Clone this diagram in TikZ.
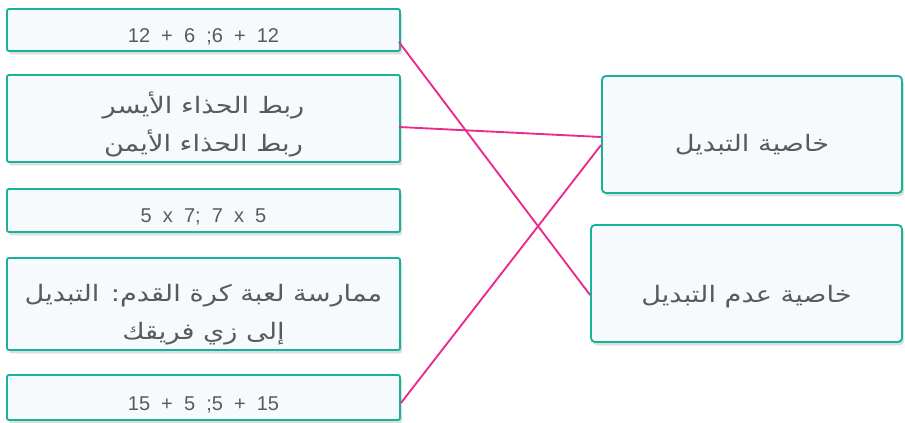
\documentclass[tikz,border=0pt]{standalone}
\usepackage{fontspec}
\setmainfont{Liberation Sans}
\newfontfamily\arabicfont[Script=Arabic,FakeStretch=1.2]{DejaVu Sans}
\TeXXeTstate=1
\usetikzlibrary{calc,shadows}
\definecolor{teal1}{HTML}{17B29C}
\definecolor{boxfill}{HTML}{F6FAFD}
\definecolor{mag}{HTML}{EC2A8E}
\definecolor{txt}{HTML}{5A5A5A}
\begin{document}
\begin{tikzpicture}[x=0.75pt,y=-0.75pt,
  card/.style={draw=teal1,line width=1.4pt,fill=boxfill,rounded corners=1.5pt,
    inner sep=0pt,
    drop shadow={opacity=0.22,shadow xshift=1.5pt,shadow yshift=-2.5pt,fill=black!60}},
  lcard/.style={card,minimum width=294.75pt},
  rcard/.style={card,minimum height=87.75pt,rounded corners=3pt},
  lbl/.style={inner sep=0pt,text=txt,align=center},
  arab/.style={lbl,font=\arabicfont\fontsize{17}{28.5}\selectfont},
  numf/.style={lbl,font=\fontsize{15}{17}\selectfont},
  link/.style={draw=mag,line width=1.4pt}]
\useasboundingbox (0,0) rectangle (905,422);
\fill[white] (0,0) rectangle (905,422);
\node[lcard,minimum height=31.5pt] (b1) at (203.5,30) {};
\node[lcard,minimum height=65.25pt] (b2) at (203.5,118.5) {};
\node[lcard,minimum height=32.25pt] (b3) at (203.5,210.5) {};
\node[lcard,minimum height=69pt] (b4) at (203.5,304) {};
\node[lcard,minimum height=33.75pt] (b5) at (203.5,397.5) {};
\node[rcard,minimum width=225pt] (ra) at (752,134.5) {};
\node[rcard,minimum width=233.25pt] (rb) at (746.5,283.5) {};
\node[numf] (t1) at ($(b1.center)+(0,6.5)$) {12\ \ +\ \ 6\ \ ;6\ \ +\ \ 12};
\node[arab] (t2) at ($(b2.center)+(0,5.5)$) {\beginR ربط الحذاء الأيسر\endR\\\beginR ربط الحذاء الأيمن\endR};
\node[numf] (t3) at ($(b3.center)+(0,6.5)$) {5\ \ x\ \ 7;\ \ 7\ \ x\ \ 5};
\node[arab] (t4) at ($(b4.center)+(0,11)$) {\beginR ممارسة لعبة كرة القدم: التبديل\endR\\\beginR إلى زي فريقك\endR};
\node[numf] (t5) at ($(b5.center)+(0,7.5)$) {15\ \ +\ \ 5\ \ ;5\ \ +\ \ 15};
\node[arab] (ta) at ($(ra.center)+(0,10)$) {\beginR خاصية التبديل\endR};
\node[arab] (tb) at ($(rb.center)+(0,13)$) {\beginR خاصية عدم التبديل\endR};
\draw[link] ($(b1.east)+(-2,12)$) -- ($(rb.west)+(0,11.5)$);
\draw[link] ($(b2.east)+(-2,8.5)$) -- ($(ra.west)+(0,2.5)$);
\draw[link] ($(b5.east)+(0,5.5)$) -- ($(ra.west)+(0,10.5)$);
\end{tikzpicture}
\end{document}
